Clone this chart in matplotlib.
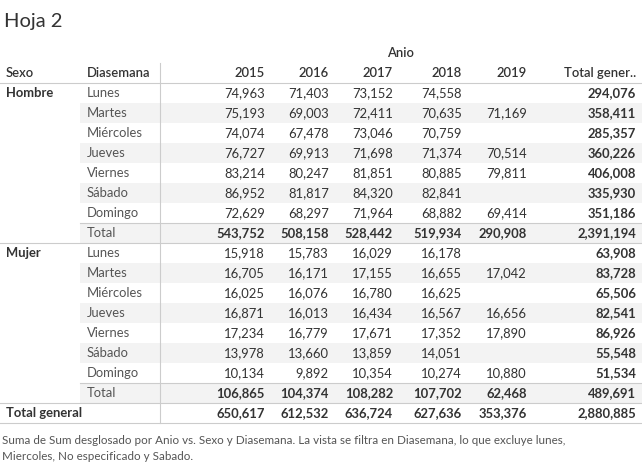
import matplotlib
matplotlib.use("Agg")
import matplotlib.pyplot as plt

plt.rcParams['font.family'] = ['Lato', 'DejaVu Sans']

years = ["2015", "2016", "2017", "2018", "2019"]
days = ["Lunes", "Martes", "Miércoles", "Jueves", "Viernes", "Sábado", "Domingo"]
hombre = [
    [74963, 71403, 73152, 74558, None],
    [75193, 69003, 72411, 70635, 71169],
    [74074, 67478, 73046, 70759, None],
    [76727, 69913, 71698, 71374, 70514],
    [83214, 80247, 81851, 80885, 79811],
    [86952, 81817, 84320, 82841, None],
    [72629, 68297, 71964, 68882, 69414],
]
hombre_tot_col = [294076, 358411, 285357, 360226, 406008, 335930, 351186]
hombre_total = [543752, 508158, 528442, 519934, 290908, 2391194]
mujer = [
    [15918, 15783, 16029, 16178, None],
    [16705, 16171, 17155, 16655, 17042],
    [16025, 16076, 16780, 16625, None],
    [16871, 16013, 16434, 16567, 16656],
    [17234, 16779, 17671, 17352, 17890],
    [13978, 13660, 13859, 14051, None],
    [10134, 9892, 10354, 10274, 10880],
]
mujer_tot_col = [63908, 83728, 65506, 82541, 86926, 55548, 51534]
mujer_total = [106865, 104374, 108282, 107702, 62468, 489691]
grand_total = [650617, 612532, 636724, 627636, 353376, 2880885]

W, H = 642, 466
fig = plt.figure(figsize=(W/100, H/100), dpi=100)
ax = fig.add_axes([0, 0, 1, 1])
ax.set_xlim(0, W); ax.set_ylim(H, 0); ax.axis('off')

dark = '#333333'; grey = '#555555'; lc = '#cccccc'
fs = 9.4
colx = [265, 329, 393, 462, 527, 636]
fmt = lambda v: "" if v is None else f"{v:,}"

ax.text(4, 22, "Hoja 2", fontsize=14.5, color=dark, va='center')
ax.text(400, 53, "Anio", fontsize=fs, color=dark, va='center', ha='center', fontweight='semibold')
ax.text(6, 73, "Sexo", fontsize=fs, color=dark, va='center', fontweight='semibold')
ax.text(87, 73, "Diasemana", fontsize=fs, color=dark, va='center', fontweight='semibold')
for x, y in zip(colx, years + ["Total gener.."]):
    ax.text(x, 73, y, fontsize=fs, color=dark, va='center', ha='right', fontweight='semibold')

def block(y0, name, rows, totcol, tot):
    ax.text(6, y0, name, fontsize=fs, color=dark, va='center', fontweight='bold')
    for i, (d, r) in enumerate(zip(days + ["Total"], rows + [tot[:5]])):
        y = y0 + 20 * i
        if i % 2 == 1:
            ax.add_patch(plt.Rectangle((80, y - 10), W - 80, 20, color='#f3f3f3', lw=0, zorder=0))
        ax.text(87, y, d, fontsize=fs, color=grey, va='center')
        bold = (i == 7)
        for x, v in zip(colx[:5], r):
            ax.text(x, y, fmt(v), fontsize=fs, color=dark, va='center', ha='right',
                    fontweight='bold' if bold else 'normal')
        tv = tot[5] if bold else totcol[i]
        ax.text(colx[5], y, fmt(tv), fontsize=fs, color=dark, va='center', ha='right', fontweight='bold')
    ax.plot([80, W], [y0 + 20 * 7 - 10] * 2, color=lc, lw=0.8)

block(93, "Hombre", hombre, hombre_tot_col, hombre_total)
block(253, "Mujer", mujer, mujer_tot_col, mujer_total)

ax.text(6, 413, "Total general", fontsize=fs, color=dark, va='center', fontweight='bold')
for x, v in zip(colx, grand_total):
    ax.text(x, 413, fmt(v), fontsize=fs, color=dark, va='center', ha='right', fontweight='bold')

for y in [83, 243, 403, 423]:
    ax.plot([0, W], [y, y], color=lc, lw=0.8)
ax.plot([160, 160], [63, 423], color=lc, lw=0.8)

ax.text(2, 440, "Suma de Sum desglosado por Anio vs. Sexo y Diasemana. La vista se filtra en Diasemana, lo que excluye lunes,",
        fontsize=8.4, color=grey, va='center')
ax.text(2, 457, "Miercoles, No especificado y Sabado.", fontsize=8.4, color=grey, va='center')

fig.savefig("out.png", dpi=100)
